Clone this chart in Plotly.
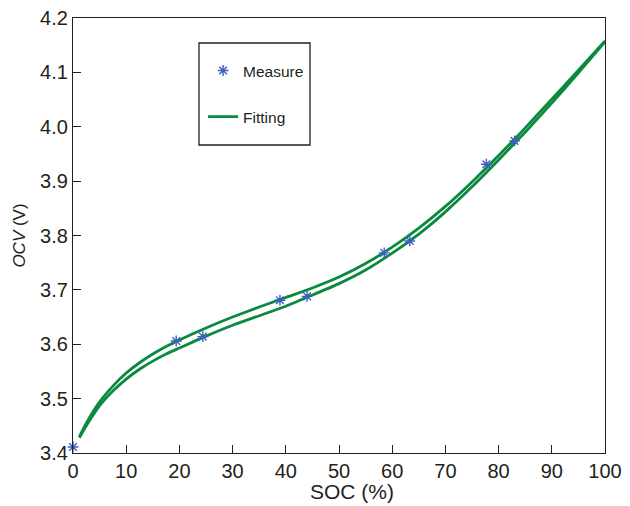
import plotly.graph_objects as go

# Measured points
soc_measure = [0, 19.4, 24.4, 38.9, 44.0, 58.5, 63.3, 77.7, 83.0]
ocv_measure = [3.411, 3.606, 3.614, 3.681, 3.688, 3.768, 3.790, 3.931, 3.974]

# Fitting curves
soc_fit = [1.2, 2.5, 5, 7.5, 10, 12.5, 15, 17.5, 20, 25, 30, 35, 40, 45, 50,
           55, 60, 65, 70, 75, 80, 85, 90, 95, 100]
ocv_fit_upper = [3.430, 3.455, 3.494, 3.523, 3.547, 3.566, 3.582, 3.596, 3.608,
                 3.630, 3.650, 3.6685, 3.686, 3.7035, 3.7235, 3.7485, 3.7785,
                 3.8135, 3.8535, 3.8985, 3.947, 3.998, 4.0505, 4.104, 4.158]
ocv_fit_lower = [3.428, 3.450, 3.487, 3.514, 3.536, 3.554, 3.569, 3.582, 3.593,
                 3.615, 3.635, 3.6525, 3.670, 3.6905, 3.7115, 3.7365, 3.7675,
                 3.8025, 3.8435, 3.8895, 3.939, 3.990, 4.0435, 4.099, 4.156]

x_ticks = [0, 10, 20, 30, 40, 50, 60, 70, 80, 90, 100]
y_ticks = [3.4, 3.5, 3.6, 3.7, 3.8, 3.9, 4.0, 4.1, 4.2]

GREEN = "#0a8a3e"
BLUE = "#3f5fbf"
INK = "#231f20"
FONT = "Liberation Sans, Arial, sans-serif"

fig = go.Figure()
fig.add_trace(go.Scatter(
    x=soc_fit, y=ocv_fit_upper, mode="lines", name="Fitting",
    line=dict(color=GREEN, width=2.8, shape="spline", smoothing=0.6),
    legendgroup="fit", legendrank=2, showlegend=True))
fig.add_trace(go.Scatter(
    x=soc_fit, y=ocv_fit_lower, mode="lines", name="Fitting",
    line=dict(color=GREEN, width=2.8, shape="spline", smoothing=0.6),
    legendgroup="fit", showlegend=False))
fig.add_trace(go.Scatter(
    x=soc_measure, y=ocv_measure, mode="markers", name="Measure",
    marker=dict(symbol="asterisk-open", size=9, color=BLUE,
                line=dict(color=BLUE, width=1.4)),
    legendgroup="meas", legendrank=1, cliponaxis=False))

axis_common = dict(
    showgrid=False, zeroline=False, showline=True, linecolor=INK,
    linewidth=1.3, mirror=True, ticks="inside", ticklen=8, tickwidth=1.3,
    tickcolor=INK, tickfont=dict(family=FONT, size=20, color=INK),
    automargin=False,
)

fig.update_xaxes(range=[0, 100], tickvals=x_ticks,
                 ticktext=[str(v) for v in x_ticks],
                 **axis_common)
fig.update_yaxes(range=[3.4, 4.2], tickvals=y_ticks,
                 ticktext=[f"{v:.1f}" for v in y_ticks],
                 ticklabelstandoff=0,
                 title=dict(text="<i>OCV</i> (V)", font=dict(family=FONT, size=17, color=INK),
                            standoff=10),
                 **axis_common)

# x-axis title (placed slightly right of centre as in the original)
fig.add_annotation(text="SOC (%)", xref="paper", yref="paper",
                   x=0.524, y=-0.0874, xanchor="center", yanchor="middle",
                   showarrow=False, font=dict(family=FONT, size=21, color=INK))

# Legend frame
fig.add_shape(type="rect", xref="paper", yref="paper",
              x0=0.2368, x1=0.4455, y0=0.708, y1=0.9425,
              line=dict(color=INK, width=1.3), fillcolor="rgba(0,0,0,0)",
              layer="above")

fig.update_layout(
    width=630, height=506,
    margin=dict(l=73, r=25, t=18, b=53),
    paper_bgcolor="white", plot_bgcolor="white",
    showlegend=True,
    legend=dict(x=0.2445, y=0.9174, xanchor="left", yanchor="top",
                bgcolor="rgba(0,0,0,0)", borderwidth=0,
                font=dict(family=FONT, size=15.5, color=INK),
                tracegroupgap=23, traceorder="grouped",
                itemwidth=30),
)

fig.write_html("out.html")
